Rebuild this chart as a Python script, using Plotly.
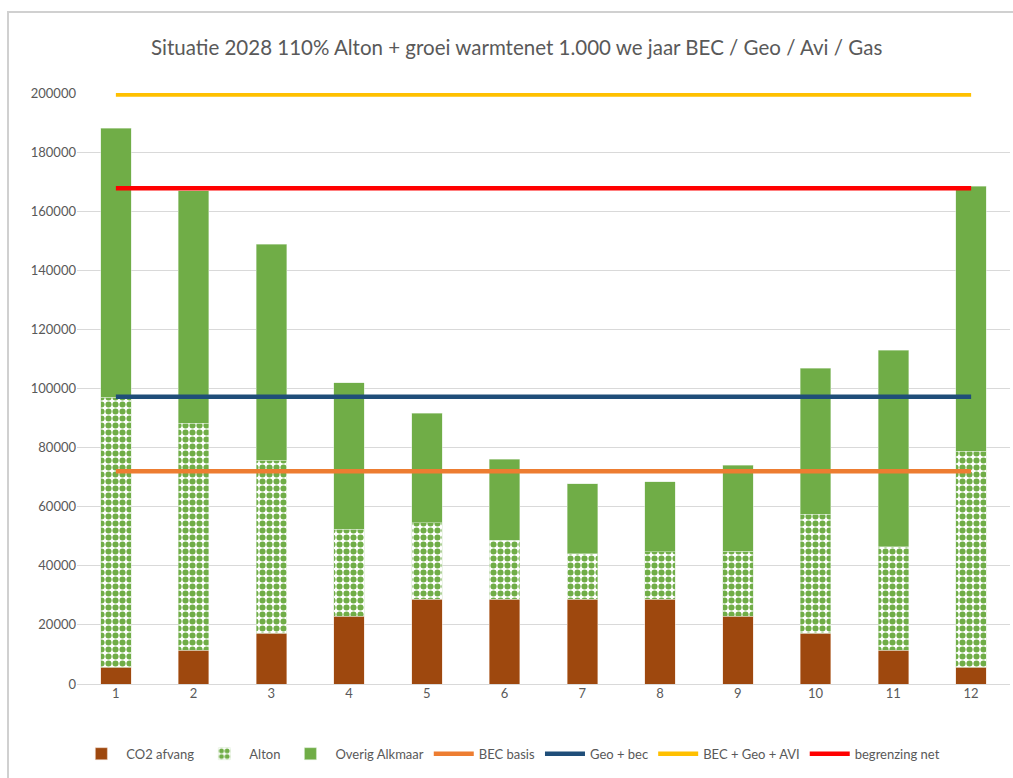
import plotly.graph_objects as go

months = ["1", "2", "3", "4", "5", "6", "7", "8", "9", "10", "11", "12"]
co2_afvang = [5750, 11500, 17250, 23000, 28750, 28750, 28750, 28750, 23000, 17250, 11500, 5750]
alton = [91250, 76800, 58550, 29400, 25750, 19950, 15250, 15950, 22000, 40250, 34900, 73050]
overig_alkmaar = [91000, 78700, 73100, 49500, 37200, 27400, 23700, 23700, 29100, 49400, 66600, 89700]
bec_basis = [72000] * 12
geo_bec = [97200] * 12
bec_geo_avi = [199500] * 12
begrenzing_net = [167800] * 12

FONT = "Lato, 'Open Sans', sans-serif"
fig = go.Figure()
fig.add_bar(x=months, y=co2_afvang, name="CO2 afvang",
            marker=dict(color="#9E480E", line=dict(color="#f0d8c8", width=0.5)))
fig.add_bar(x=months, y=alton, name="Alton",
            marker=dict(color="white", line=dict(color="#d8ead0", width=0.5),
                        pattern=dict(shape=".", fgcolor="#70AD47", bgcolor="white",
                                     size=7, solidity=0.6, fillmode="replace")))
fig.add_bar(x=months, y=overig_alkmaar, name="Overig Alkmaar",
            marker=dict(color="#70AD47", line=dict(color="#d8ead0", width=0.5)))

lines = [("BEC basis", bec_basis, "#ED7D31"),
         ("Geo + bec", geo_bec, "#1F4E79"),
         ("BEC + Geo + AVI", bec_geo_avi, "#FFC000"),
         ("begrenzing net", begrenzing_net, "#FF0000")]
for name, vals, col in lines:
    fig.add_scatter(x=months, y=vals, name=name, mode="lines",
                    line=dict(color=col, width=4.5))

fig.update_layout(
    width=1013, height=778,
    barmode="stack", bargap=0.61,
    paper_bgcolor="white", plot_bgcolor="white",
    margin=dict(l=77, r=3, t=93, b=94),
    title=dict(text="Situatie 2028 110% Alton + groei warmtenet 1.000 we jaar BEC / Geo / Avi / Gas",
               x=0.51, xanchor="center", y=1 - 48 / 778, yanchor="middle",
               font=dict(family=FONT, size=20.5, color="#595959")),
    font=dict(family=FONT, size=13, color="#595959"),
    showlegend=True,
    legend=dict(orientation="h", x=0.465, xanchor="center", y=-0.118, yanchor="middle",
                font=dict(family=FONT, size=13, color="#595959"), traceorder="normal",
                itemwidth=40),
    xaxis=dict(type="category", range=[-0.5, 11.5], showgrid=False, showline=False,
               ticks="", tickfont=dict(size=13, color="#595959")),
    yaxis=dict(range=[0, 200000], dtick=20000, showgrid=True, gridcolor="#d9d9d9",
               gridwidth=1.3, zeroline=True, zerolinecolor="#d9d9d9", zerolinewidth=1.3,
               showline=False, tickformat="d", ticks="", ticklen=0,
               tickfont=dict(size=13, color="#595959")),
)

# outer chart border
pw, ph = 1013 - 77 - 3, 778 - 93 - 94
fig.add_shape(type="rect", xref="paper", yref="paper", layer="below",
              x0=(8 - 77) / pw, x1=(1030 - 77) / pw,
              y0=(684 - 800) / ph, y1=(684 - 12) / ph,
              line=dict(color="#d0d0d0", width=2), fillcolor="rgba(0,0,0,0)")

fig.write_html("out.html", config={"displayModeBar": False},
               post_script="document.body.style.margin='0';")
